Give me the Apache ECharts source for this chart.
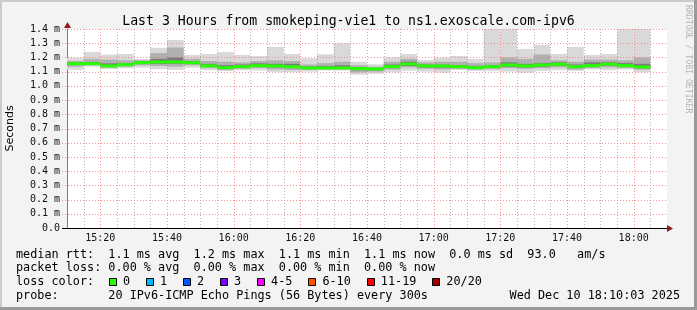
<!DOCTYPE html>
<html><head><meta charset="utf-8">
<script src="https://cdn.jsdelivr.net/npm/echarts@6/dist/echarts.min.js"></script>
<style>html,body{margin:0;padding:0;background:#f3f3f3}#c{width:697px;height:310px}</style>
</head><body><div id="c"></div>
<script>
const titleText = 'Last 3 Hours from smokeping-vie1 to ns1.exoscale.com-ipv6';
const yAxisTitle = 'Seconds';
const timeRange = ['15:10', '18:10'];
const binStarts = ['15:10','15:15','15:20','15:25','15:30','15:35','15:40','15:45','15:50','15:55',
  '16:00','16:05','16:10','16:15','16:20','16:25','16:30','16:35','16:40','16:45',
  '16:50','16:55','17:00','17:05','17:10','17:15','17:20','17:25','17:30','17:35',
  '17:40','17:45','17:50','17:55','18:00'];
const binMinutes = 5;
const xTickLabels = ['15:20','15:40','16:00','16:20','16:40','17:00','17:20','17:40','18:00'];
const yTicks = [0,0.1,0.2,0.3,0.4,0.5,0.6,0.7,0.8,0.9,1.0,1.1,1.2,1.3,1.4];

// values in ms (axis shows "m" = milli-seconds)
const median   = [1.156,1.156,1.140,1.149,1.163,1.168,1.168,1.163,1.141,1.128,1.135,1.142,1.140,1.135,1.126,1.126,1.126,1.121,1.119,1.135,1.154,1.140,1.140,1.135,1.128,1.135,1.147,1.140,1.147,1.152,1.135,1.142,1.152,1.142,1.133];
const smokeMax = [1.198,1.238,1.220,1.224,1.189,1.267,1.323,1.217,1.224,1.238,1.217,1.210,1.274,1.224,1.194,1.222,1.300,1.170,1.152,1.201,1.224,1.182,1.198,1.210,1.189,1.500,1.500,1.260,1.288,1.224,1.274,1.217,1.224,1.500,1.500];
const smokeMin = [1.112,1.135,1.119,1.124,1.128,1.117,1.112,1.128,1.110,1.103,1.110,1.108,1.098,1.097,1.100,1.108,1.108,1.079,1.085,1.095,1.107,1.100,1.093,1.112,1.105,1.105,1.100,1.093,1.105,1.110,1.105,1.115,1.110,1.115,1.096];
const bandHi   = [1.175,1.190,1.185,1.180,1.180,1.230,1.270,1.190,1.175,1.170,1.165,1.175,1.180,1.175,1.150,1.160,1.170,1.145,1.135,1.170,1.190,1.165,1.170,1.170,1.160,1.165,1.200,1.190,1.220,1.180,1.170,1.185,1.185,1.180,1.200];
const bandLo   = [1.135,1.145,1.128,1.135,1.145,1.140,1.135,1.145,1.125,1.112,1.120,1.125,1.115,1.112,1.112,1.115,1.115,1.095,1.100,1.115,1.130,1.120,1.115,1.120,1.115,1.118,1.125,1.120,1.125,1.130,1.115,1.125,1.130,1.125,1.115];
const coreHi   = [1.165,1.168,1.158,1.160,1.172,1.190,1.200,1.172,1.155,1.145,1.150,1.158,1.155,1.155,1.135,1.140,1.145,1.130,1.125,1.150,1.170,1.150,1.150,1.145,1.140,1.145,1.165,1.155,1.160,1.165,1.150,1.165,1.165,1.160,1.155];
const coreLo   = [1.148,1.150,1.134,1.140,1.155,1.155,1.155,1.155,1.133,1.120,1.128,1.135,1.130,1.125,1.120,1.120,1.120,1.110,1.110,1.125,1.140,1.130,1.128,1.125,1.120,1.127,1.135,1.130,1.135,1.140,1.125,1.133,1.140,1.133,1.123];

const statLines = [
  'median rtt:  1.1 ms avg  1.2 ms max  1.1 ms min  1.1 ms now  0.0 ms sd  93.0   am/s',
  'packet loss: 0.00 % avg  0.00 % max  0.00 % min  0.00 % now'
];
const lossTitle = 'loss color:';
const lossLabels = ['0','1','2','3','4-5','6-10','11-19','20/20'];
const lossColors = ['#26ff00','#00b8ff','#0059ff','#7e00ff','#ff00ff','#ff5500','#ff0000','#a10000'];
const probeLine = 'probe:       20 IPv6-ICMP Echo Pings (56 Bytes) every 300s';
const stampText = 'Wed Dec 10 18:10:03 2025';
const creditText = 'RRDTOOL / TOBI OETIKER';

const toMin = s => { const p = s.split(':').map(Number); return p[0]*60 + p[1]; };
const xMin = toMin(timeRange[0]), xMax = toMin(timeRange[1]);
const yMin = 0, yMax = 1.4;
const majorX = xTickLabels.map(toMin);
const fmtTime = v => { const h = Math.floor(v/60), m = v % 60; return String(h).padStart(2,'0') + ':' + String(m).padStart(2,'0'); };

const rows = binStarts.map((s, i) => {
  const a = toMin(s);
  return [a, a + binMinutes, smokeMin[i], smokeMax[i], bandLo[i], bandHi[i], coreLo[i], coreHi[i], median[i]];
});

const mono = '"DejaVu Sans Mono", "Liberation Mono", monospace';
const cw = 7.13;
const legendFont = '11.8px ' + mono;

const chart = echarts.init(document.getElementById('c'), null, {renderer: 'canvas'});

const graphics = [];
graphics.push({type:'rect', shape:{x:0,y:0,width:697,height:2}, style:{fill:'#cbcbcb'}, silent:true});
graphics.push({type:'rect', shape:{x:0,y:0,width:2,height:310}, style:{fill:'#cbcbcb'}, silent:true});
graphics.push({type:'rect', shape:{x:694,y:0,width:3,height:310}, style:{fill:'#999999'}, silent:true});
graphics.push({type:'rect', shape:{x:0,y:307,width:697,height:3}, style:{fill:'#999999'}, silent:true});
graphics.push({type:'text', x:10, y:128.5, rotation:Math.PI/2,
  style:{text:yAxisTitle, font:'11px "DejaVu Sans", sans-serif', fill:'#000', align:'center', verticalAlign:'middle'}});
graphics.push({type:'text', x:688, y:5, rotation:-Math.PI/2,
  style:{text:creditText, font:'8.2px ' + mono, fill:'#b4b4b4', align:'left', verticalAlign:'middle'}});
const lineY = [254.5, 268.3, 282.1, 296];
statLines.forEach((t, i) => graphics.push({type:'text', x:16, y:lineY[i],
  style:{text:t, font:legendFont, fill:'#000', align:'left', verticalAlign:'middle'}}));
graphics.push({type:'text', x:16, y:lineY[2], style:{text:lossTitle, font:legendFont, fill:'#000', align:'left', verticalAlign:'middle'}});
let bx = 16 + 13*cw;
lossLabels.forEach((lab, i) => {
  graphics.push({type:'rect', shape:{x:Math.round(bx)+0.5, y:278.5, width:7, height:7},
    style:{fill:lossColors[i], stroke:'#000', lineWidth:1}});
  graphics.push({type:'text', x:bx + 14.3, y:lineY[2],
    style:{text:lab, font:legendFont, fill:'#000', align:'left', verticalAlign:'middle'}});
  bx += 29.9 + lab.length*cw;
});
graphics.push({type:'text', x:16, y:lineY[3], style:{text:probeLine, font:legendFont, fill:'#000', align:'left', verticalAlign:'middle'}});
graphics.push({type:'text', x:680, y:lineY[3], style:{text:stampText, font:legendFont, fill:'#000', align:'right', verticalAlign:'middle'}});

const minorX = [];
binStarts.forEach(s => { const v = toMin(s) + binMinutes; if (v <= xMax) minorX.push(v); });

chart.setOption({
  animation: false,
  backgroundColor: '#f3f3f3',
  title: {text: titleText, left: 'center', top: 10,
    textStyle: {fontFamily: mono, fontSize: 13.2, fontWeight: 'normal', color: '#000'}},
  grid: {left: 67, right: 30, top: 29, bottom: 82, show: true, backgroundColor: '#ffffff', borderWidth: 0},
  xAxis: {type: 'value', min: xMin, max: xMax, interval: binMinutes,
    axisLine: {show: true, lineStyle: {color: '#000', width: 1}},
    axisTick: {show: false}, splitLine: {show: false},
    axisLabel: {margin: 5, fontFamily: mono, fontSize: 10, color: '#111',
      formatter: v => xTickLabels.indexOf(fmtTime(v)) >= 0 ? fmtTime(v) : ''}},
  yAxis: {type: 'value', min: yMin, max: yMax, interval: 0.1,
    axisLine: {show: true, lineStyle: {color: '#808080', width: 1}},
    axisTick: {show: false}, splitLine: {show: false},
    axisLabel: {margin: 7, fontFamily: mono, fontSize: 10, color: '#111',
      formatter: v => Math.abs(v) < 1e-9 ? '0.0' : v.toFixed(1) + ' m'}},
  graphic: graphics,
  series: [
    {type: 'custom', name: 'smoke', z: 2, clip: true, data: rows, encode: {x: [0, 1], y: [2, 3]},
      renderItem: (params, api) => {
        const x0 = api.value(0), x1 = api.value(1);
        const layers = [[2, 3, '#d9d9d9'], [4, 5, '#b0b0b0'], [6, 7, '#7a7a7a']];
        return {type: 'group', children: layers.map(([a, b, c]) => {
          const lo = Math.max(api.value(a), yMin), hi = Math.min(api.value(b), yMax);
          const p0 = api.coord([x0, hi]), p1 = api.coord([x1, lo]);
          return {type: 'rect', shape: {x: p0[0], y: p0[1], width: p1[0] - p0[0], height: p1[1] - p0[1]}, style: {fill: c}};
        })};
      }},
    {type: 'custom', name: 'grid', z: 3, clip: false, data: [[xMin, yMin]], silent: true,
      renderItem: (params, api) => {
        const ch = [];
        const dash = [1, 2];
        const left = api.coord([xMin, yMin]), right = api.coord([xMax, yMax]);
        minorX.forEach(v => {
          const x = Math.round(api.coord([v, 0])[0]) + 0.5;
          const major = majorX.indexOf(v) >= 0;
          ch.push({type: 'line', shape: {x1: x, y1: Math.round(left[1]), x2: x, y2: Math.round(right[1])},
            style: {stroke: major ? 'rgba(245,120,120,0.8)' : 'rgba(150,150,150,0.7)', lineWidth: 1, lineDash: dash}});
        });
        yTicks.forEach(t => {
          if (t === 0) return;
          const y = Math.round(api.coord([xMin, t])[1]) + 0.5;
          ch.push({type: 'line', shape: {x1: Math.round(left[0]) - 5, y1: y, x2: Math.round(right[0]), y2: y},
            style: {stroke: 'rgba(245,120,120,0.8)', lineWidth: 1, lineDash: dash}});
        });
        const yb = Math.round(left[1]) + 0.5;
        ch.push({type: 'line', shape: {x1: left[0] - 5, y1: yb, x2: left[0], y2: yb}, style: {stroke: '#000', lineWidth: 1}});
        const ax = Math.round(right[0]);
        ch.push({type: 'polygon', shape: {points: [[ax, yb - 3.5], [ax + 6, yb], [ax, yb + 3.5]]}, style: {fill: '#8f1c1c'}});
        const lx = Math.round(left[0]) + 0.5, ty = Math.round(right[1]);
        ch.push({type: 'polygon', shape: {points: [[lx - 3.5, ty - 1], [lx, ty - 7], [lx + 3.5, ty - 1]]}, style: {fill: '#8f1c1c'}});
        return {type: 'group', children: ch};
      }},
    {type: 'custom', name: 'median', z: 4, clip: true, data: rows, encode: {x: [0, 1], y: [8]},
      renderItem: (params, api) => {
        const p0 = api.coord([api.value(0), api.value(8)]), p1 = api.coord([api.value(1), api.value(8)]);
        return {type: 'rect', shape: {x: p0[0], y: p0[1] - 1.5, width: p1[0] - p0[0], height: 3}, style: {fill: '#26ff00'}};
      }}
  ]
});
</script></body></html>
